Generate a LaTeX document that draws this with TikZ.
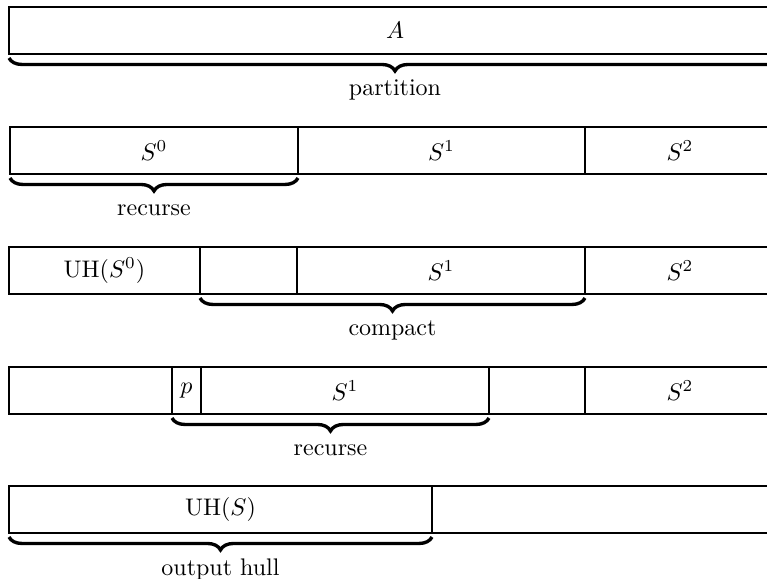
\documentclass[tikz,border=0pt]{standalone}
\usepackage{amsmath,amssymb}
\usepackage{tikz}
\usetikzlibrary{positioning,calc,decorations.pathreplacing}
\def\pxu{0.4167pt}
\tikzset{
  figfont/.style={font=\normalsize},
  cellbox/.style={draw, thick, minimum height=47*\pxu, inner sep=0pt, outer sep=0pt},
  figbrace/.style={decorate, decoration={brace, mirror, amplitude=5.4pt}, line width=1.4pt},
  bracelabel/.style={midway, yshift=-32*\pxu, inner sep=0pt},
}
\begin{document}
\begin{tikzpicture}[figfont, x=\pxu, y=\pxu]
	\useasboundingbox (0,0) rectangle (767,-579);
	% Row 1: whole array
	\node[cellbox, anchor=north west, minimum width=772*\pxu] (A) at (9,-7) {$A$};

	% Row 2: partition
	\node[cellbox, anchor=north west, minimum width=288*\pxu] (S0) at (10,-127) {$S^0$};
	\node[cellbox, right=0pt of S0, minimum width=287*\pxu] (S1a) {$S^1$};
	\node[cellbox, right=0pt of S1a, minimum width=190*\pxu] (S2a) {$S^2$};

	% Row 3: after recursing on S0
	\node[cellbox, anchor=north west, minimum width=191*\pxu] (UH0) at (9,-247) {$\mathrm{UH}(S^0)$};
	\node[cellbox, right=0pt of UH0, minimum width=97*\pxu] (G1) {};
	\node[cellbox, right=0pt of G1, minimum width=288*\pxu] (S1b) {$S^1$};
	\node[cellbox, right=0pt of S1b, minimum width=190*\pxu] (S2b) {$S^2$};

	% Row 4: after compacting
	\node[cellbox, anchor=north west, minimum width=163*\pxu] (L1) at (9,-367) {};
	\node[cellbox, right=0pt of L1, minimum width=29*\pxu] (P) {$p$};
	\node[cellbox, right=0pt of P, minimum width=288*\pxu] (S1c) {$S^1$};
	\node[cellbox, right=0pt of S1c, minimum width=96*\pxu] (G2) {};
	\node[cellbox, right=0pt of G2, minimum width=190*\pxu] (S2c) {$S^2$};

	% Row 5: result
	\node[cellbox, anchor=north west, minimum width=423*\pxu] (UHS) at (9,-486) {$\mathrm{UH}(S)$};
	\node[cellbox, right=0pt of UHS, minimum width=345*\pxu] (R) {};

	% Braces
	\draw[figbrace] ([yshift=-4*\pxu]A.south west) -- ([yshift=-4*\pxu]A.south east)
		node[bracelabel] {partition};
	\draw[figbrace] ([yshift=-4*\pxu]S0.south west) -- ([yshift=-4*\pxu]S0.south east)
		node[bracelabel] {recurse};
	\draw[figbrace] ([yshift=-4*\pxu]G1.south west) -- ([yshift=-4*\pxu]S1b.south east)
		node[bracelabel] {compact};
	\draw[figbrace] ([yshift=-4*\pxu]P.south west) -- ([yshift=-4*\pxu]S1c.south east)
		node[bracelabel] {recurse};
	\draw[figbrace] ([yshift=-4*\pxu]UHS.south west) -- ([yshift=-4*\pxu]UHS.south east)
		node[bracelabel] {output hull};
\end{tikzpicture}
\end{document}
